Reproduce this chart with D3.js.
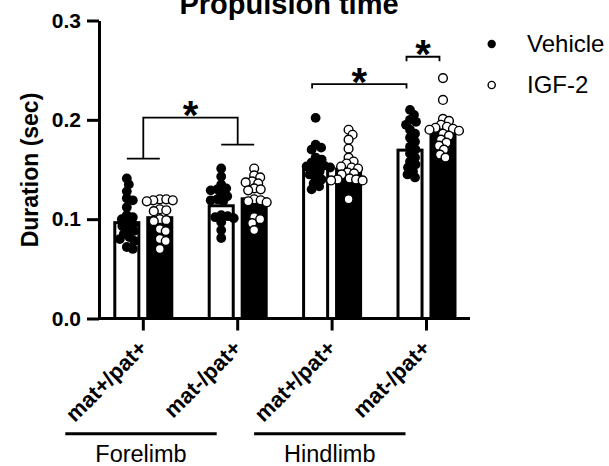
<!DOCTYPE html>
<html><head><meta charset="utf-8">
<script src="https://cdn.jsdelivr.net/npm/d3@7"></script>
<style>
body{margin:0;background:#fff}
svg{display:block}
text{font-family:"Liberation Sans",Arial,Helvetica,sans-serif;fill:#000}
</style>
</head><body>
<svg id="c" width="609" height="466"></svg>
<script>
// ---------- data ----------
const groups = ["Forelimb mat+/pat+", "Forelimb mat-/pat+", "Hindlimb mat+/pat+", "Hindlimb mat-/pat+"];
const tickLabels = ["mat+/pat+", "mat-/pat+", "mat+/pat+", "mat-/pat+"];
const limbs = ["Forelimb", "Hindlimb"];
const limbGroups = [[0, 1], [2, 3]];
const series = ["Vehicle", "IGF-2"];
const yTicks = [0, 0.1, 0.2, 0.3];

const vehicleMeans = [0.098, 0.115, 0.154, 0.171];
const igfMeans = [0.103, 0.122, 0.152, 0.190];

const vehicleG1 = [0.141, 0.135, 0.128, 0.121, 0.119, 0.112, 0.104, 0.102, 0.100, 0.097, 0.095, 0.093, 0.090, 0.088, 0.085, 0.082, 0.080, 0.078, 0.072, 0.070];
const igfG1 = [0.120, 0.120, 0.119, 0.119, 0.118, 0.110, 0.109, 0.108, 0.100, 0.099, 0.098, 0.090, 0.088, 0.080, 0.078, 0.070];
const vehicleG2 = [0.151, 0.143, 0.135, 0.131, 0.130, 0.129, 0.125, 0.123, 0.120, 0.119, 0.118, 0.104, 0.103, 0.102, 0.101, 0.097, 0.089, 0.081];
const igfG2 = [0.151, 0.144, 0.142, 0.138, 0.137, 0.136, 0.131, 0.130, 0.129, 0.120, 0.119, 0.118, 0.117, 0.102, 0.100, 0.096, 0.089];
const vehicleG3 = [0.202, 0.175, 0.172, 0.170, 0.162, 0.160, 0.157, 0.155, 0.154, 0.153, 0.152, 0.150, 0.148, 0.145, 0.142, 0.140, 0.136, 0.133, 0.130];
const igfG3 = [0.190, 0.185, 0.180, 0.171, 0.162, 0.158, 0.156, 0.153, 0.152, 0.151, 0.147, 0.146, 0.145, 0.141, 0.140, 0.140, 0.139, 0.139, 0.120];
const vehicleG4 = [0.210, 0.205, 0.200, 0.198, 0.195, 0.190, 0.186, 0.182, 0.178, 0.173, 0.170, 0.166, 0.162, 0.158, 0.155, 0.152, 0.148, 0.145, 0.142];
const igfG4 = [0.242, 0.220, 0.201, 0.199, 0.195, 0.193, 0.192, 0.191, 0.190, 0.189, 0.186, 0.184, 0.180, 0.177, 0.174, 0.170, 0.165, 0.162];

const vehiclePoints = [vehicleG1, vehicleG2, vehicleG3, vehicleG4];
const igfPoints = [igfG1, igfG2, igfG3, igfG4];

// significance: [groupA, groupB, label] and [groupA, seriesA, groupB, seriesB, label]
const sigGroupBracket = [[0, 1, "*"]];
const sigBarBrackets = [[2, "Vehicle", 3, "Vehicle", "*"], [3, "Vehicle", 3, "IGF-2", "*"]];
const barBracketLevels = [0.236, 0.2635];

// ---------- layout ----------
const svg = d3.select("#c");
const m = {left: 99, top: 20.5, bottom: 318.5, right: 470};
const FONT = "'Liberation Sans',Arial,sans-serif";

const y = d3.scaleLinear().domain([0, 0.3]).range([m.bottom, m.top]);
const x0 = d3.scaleBand().domain(groups).range([96.1, 473.7]).paddingInner(0).paddingOuter(0);
const x1 = d3.scaleBand().domain(series).range([x0.bandwidth() / 2 - 30, x0.bandwidth() / 2 + 30]).paddingInner(0.18).paddingOuter(0);

const cx = (gi, s) => x0(groups[gi]) + x1(s) + x1.bandwidth() / 2;
const gcx = gi => x0(groups[gi]) + x0.bandwidth() / 2;

// title
svg.append("text").attr("x", 289).attr("y", 14).attr("text-anchor", "middle")
  .style("font-size", "29px").style("font-weight", "bold").text("Propulsion time");

// bars
const barData = [];
groups.forEach((g, i) => {
  barData.push({g: i, s: "Vehicle", v: vehicleMeans[i]});
  barData.push({g: i, s: "IGF-2", v: igfMeans[i]});
});
const bw = x1.bandwidth();
svg.append("g").selectAll("rect").data(barData).join("rect")
  .attr("x", d => x0(groups[d.g]) + x1(d.s) + 1.5)
  .attr("width", bw - 3)
  .attr("y", d => y(d.v) + 1.5)
  .attr("height", d => y(0) - y(d.v) - 1.5)
  .attr("fill", d => d.s === "Vehicle" ? "#fff" : "#000")
  .attr("stroke", "#000").attr("stroke-width", 3);

// beeswarm (deterministic)
function swarm(vals, centerX, dmin) {
  const placed = [];
  return vals.map(v => {
    const py = y(v);
    let off = 0;
    for (let k = 0; k < 400; k++) {
      const o = k === 0 ? 0 : (k % 2 ? 1 : -1) * Math.ceil(k / 2) * 0.5;
      let ok = true;
      for (const p of placed) {
        if ((o - p.o) ** 2 + (py - p.y) ** 2 < dmin * dmin) { ok = false; break; }
      }
      if (ok) { off = o; break; }
    }
    placed.push({o: off, y: py});
    return {x: centerX + off, y: py};
  });
}

const dotsG = svg.append("g");
groups.forEach((g, i) => {
  const vp = swarm(vehiclePoints[i], cx(i, "Vehicle"), 6.2);
  dotsG.append("g").selectAll("circle").data(vp).join("circle")
    .attr("cx", d => d.x).attr("cy", d => d.y).attr("r", 4.9).attr("fill", "#000");
  const ip = swarm(igfPoints[i], cx(i, "IGF-2"), 6.2);
  dotsG.append("g").selectAll("circle").data(ip).join("circle")
    .attr("cx", d => d.x).attr("cy", d => d.y).attr("r", 4.4)
    .attr("fill", "#fff").attr("stroke", "#000").attr("stroke-width", 1.4);
});

// y axis
const yAxis = svg.append("g").attr("transform", `translate(${m.left},0)`)
  .call(d3.axisLeft(y).tickValues(yTicks).tickFormat(d3.format(".1f")).tickSize(12).tickSizeOuter(0).tickPadding(6));
yAxis.selectAll("path,line").attr("stroke", "#000").attr("stroke-width", 3);
yAxis.selectAll("text").style("font-size", "21px").style("font-weight", "bold").attr("fill", "#000")
  .style("font-family", FONT);

// x axis
const xAxis = svg.append("g").attr("transform", `translate(0,${m.bottom})`)
  .call(d3.axisBottom(x0).tickFormat((d, i) => tickLabels[i]).tickSize(12).tickSizeOuter(0));
xAxis.select(".domain").attr("d", `M${m.left},0H${m.right}`);
xAxis.selectAll("path,line").attr("stroke", "#000").attr("stroke-width", 3);
xAxis.selectAll("text")
  .attr("x", null).attr("y", null).attr("dy", null)
  .attr("text-anchor", "end")
  .attr("transform", "translate(5,31) rotate(-45)")
  .style("font-size", "22px").style("font-weight", "bold").attr("fill", "#000")
  .style("font-family", FONT);

// y label
svg.append("text").attr("transform", "translate(38,170) rotate(-90)").attr("text-anchor", "middle")
  .style("font-size", "23px").style("font-weight", "bold").text("Duration (sec)");

// limb group labels
limbs.forEach((l, i) => {
  const a = gcx(limbGroups[i][0]) - 78, b = gcx(limbGroups[i][1]) - 21;
  svg.append("line").attr("x1", a).attr("x2", b).attr("y1", 433.7).attr("y2", 433.7)
    .attr("stroke", "#000").attr("stroke-width", 3);
  svg.append("text").attr("x", (a + b) / 2).attr("y", 461.5).attr("text-anchor", "middle")
    .style("font-size", "23.5px").text(l);
});

// significance annotations
const ann = svg.append("g").attr("stroke", "#000").attr("stroke-width", 1.8).attr("fill", "none");
function star(xc, yLine, label) {
  svg.append("text").attr("x", xc).attr("y", yLine + 11.5).attr("text-anchor", "middle")
    .style("font-size", "40px").style("font-weight", "bold").text(label);
}
sigGroupBracket.forEach(([ga, gb, lab]) => {
  const maxA = d3.max(vehiclePoints[ga].concat(igfPoints[ga]));
  const maxB = d3.max(vehiclePoints[gb].concat(igfPoints[gb]));
  const capA = y(maxA + 0.02), capB = y(maxB + 0.024);
  const top = Math.min(capA, capB) - 27;
  const xa = gcx(ga), xb = gcx(gb);
  ann.append("path").attr("d", `M${xa},${capA}V${top}H${xb}V${capB}`);
  ann.append("line").attr("x1", cx(ga, "Vehicle")).attr("x2", cx(ga, "IGF-2")).attr("y1", capA).attr("y2", capA);
  ann.append("line").attr("x1", cx(gb, "Vehicle")).attr("x2", cx(gb, "IGF-2")).attr("y1", capB).attr("y2", capB);
  star((xa + xb) / 2, top, lab);
});
sigBarBrackets.forEach(([ga, sa, gb, sb, lab], i) => {
  const yl = y(barBracketLevels[i]);
  const xa = cx(ga, sa) - 3.5, xb = cx(gb, sb) - 3.5;
  ann.append("path").attr("d", `M${xa},${yl + 4.5}V${yl}H${xb}V${yl + 4.5}`);
  star((xa + xb) / 2, yl, lab);
});

// legend
const leg = svg.append("g");
series.forEach((s, i) => {
  const ly = 44 + i * 41;
  leg.append("circle").attr("cx", 491.7).attr("cy", ly).attr("r", s === "Vehicle" ? 4.2 : 3.6)
    .attr("fill", s === "Vehicle" ? "#000" : "#fff").attr("stroke", "#000").attr("stroke-width", s === "Vehicle" ? 0 : 1.4);
  leg.append("text").attr("x", 527).attr("y", ly + 7.5).style("font-size", "24px").text(s);
});
</script>
</body></html>
